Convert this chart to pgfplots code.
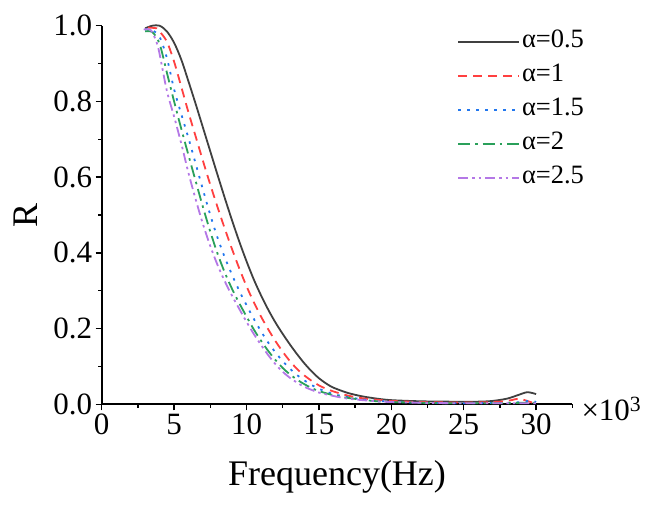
\documentclass[border=0pt]{standalone}
\usepackage{fontspec}
\setmainfont{Liberation Serif}
\usepackage{pgfplots}
\pgfplotsset{compat=1.18}
\definecolor{cblack}{RGB}{64,64,64}
\definecolor{cred}{RGB}{255,64,64}
\definecolor{cblue}{RGB}{34,119,238}
\definecolor{cgreen}{RGB}{42,160,90}
\definecolor{cpurple}{RGB}{180,120,230}
\begin{document}
\begin{tikzpicture}
\path[use as bounding box] (-101.7bp,-101.7bp) rectangle (550.3bp,404.3bp);
\begin{axis}[
  scale only axis,
  width=470.6bp, height=378.6bp,
  xmin=0, xmax=32.5, ymin=0, ymax=1.0,
  axis x line=bottom, axis y line=left,
  axis line style={-, line width=1.8bp, black},
  clip=false,
  tick align=outside,
  xtick={0,5,...,30},
  minor xtick={2.5,7.5,...,32.5},
  ytick={0,0.2,...,1.0},
  minor ytick={0.1,0.3,...,0.9},
  major tick length=6bp, minor tick length=3.5bp,
  every tick/.style={black, line width=1.5bp},
  tick label style={font=\fontsize{31bp}{36bp}\selectfont},
  /pgf/number format/assume math mode=true,
  yticklabel style={/pgf/number format/.cd, fixed, fixed zerofill, precision=1},
  scaled x ticks=false,
  xlabel={Frequency(Hz)}, ylabel={R},
  label style={font=\fontsize{36bp}{42bp}\selectfont},
  xlabel style={at={([yshift=-80.7bp]axis description cs:0.5,0)}, anchor=base},
  ylabel style={at={([xshift=-75.7bp]axis description cs:0,0.5)}, anchor=center, rotate=0},
  legend style={draw=none, fill=none, at={(rel axis cs:0.755,0.995)}, anchor=north west,
    inner sep=0pt, row sep=6bp,
    font=\fontsize{26.5bp}{31bp}\selectfont,
    nodes={inner sep=2bp, text height=18bp, text depth=6bp}},
  legend cell align=left,
  legend image code/.code={\draw[#1] (0bp,0bp) -- (61bp,0bp);},
]
\addplot[cblack, line width=1.8bp, smooth, tension=0.5] coordinates {
(3.0,0.993)(3.5,1.0)(4.0,1.0)(4.5,0.985)(5.0,0.955)(5.5,0.91)(6.0,0.852)(6.5,0.792)(7.0,0.73)(7.5,0.668)(8.0,0.606)(8.5,0.545)(9.0,0.486)(9.5,0.43)(10.0,0.378)(10.5,0.33)(11.0,0.288)(11.5,0.25)(12.0,0.216)(12.5,0.186)(13.0,0.158)(13.5,0.132)(14.0,0.108)(14.5,0.087)(15.0,0.069)(15.5,0.055)(16.0,0.044)(17.0,0.03)(18.0,0.021)(19.0,0.015)(20.0,0.011)(22,0.008)(24,0.007)(26,0.007)(27,0.009)(28,0.015)(28.8,0.025)(29.4,0.032)(30,0.027)};
\addlegendentry{α=0.5}
\addplot[cred, line width=1.8bp, dash pattern=on 9bp off 6bp, smooth, tension=0.5] coordinates {
(3.2,0.995)(3.8,0.993)(4.0,0.985)(4.5,0.958)(5.0,0.905)(5.5,0.838)(6.0,0.77)(6.5,0.706)(7.0,0.642)(7.5,0.58)(8.0,0.521)(8.5,0.464)(9.0,0.41)(9.5,0.359)(10.0,0.312)(10.5,0.27)(11.0,0.232)(11.5,0.198)(12.0,0.167)(12.5,0.139)(13.0,0.114)(13.5,0.093)(14.0,0.076)(14.5,0.062)(15.0,0.05)(15.5,0.041)(16,0.034)(17,0.023)(18,0.016)(19,0.012)(20,0.009)(22,0.006)(24,0.005)(26,0.005)(27.5,0.007)(28.3,0.011)(28.8,0.015)(29.3,0.01)(29.7,0.005)(30,0.004)};
\addlegendentry{α=1}
\addplot[cblue, line width=1.8bp, dash pattern=on 2.5bp off 6.5bp, smooth, tension=0.5] coordinates {
(3.0,0.99)(3.5,0.988)(4.0,0.97)(4.5,0.915)(5.0,0.832)(5.5,0.766)(6.0,0.702)(6.5,0.634)(7.0,0.566)(7.5,0.5)(8.0,0.44)(8.5,0.388)(9.0,0.342)(9.5,0.3)(10.0,0.262)(10.5,0.226)(11.0,0.193)(11.5,0.163)(12.0,0.137)(12.5,0.114)(13.0,0.094)(13.5,0.077)(14.0,0.063)(14.5,0.051)(15.0,0.041)(16,0.027)(17,0.019)(18,0.013)(19,0.009)(20,0.007)(22,0.004)(24,0.003)(26,0.003)(28,0.004)(29,0.006)(29.6,0.01)(30,0.006)};
\addlegendentry{α=1.5}
\addplot[cgreen, line width=1.8bp, dash pattern=on 12bp off 5bp on 2.5bp off 5bp, smooth, tension=0.5] coordinates {
(3.0,0.985)(3.5,0.983)(4.0,0.952)(4.5,0.876)(5.0,0.8)(5.5,0.727)(6.0,0.657)(6.5,0.588)(7.0,0.52)(7.5,0.456)(8.0,0.398)(8.5,0.348)(9.0,0.305)(9.5,0.267)(10.0,0.232)(10.5,0.198)(11.0,0.168)(11.5,0.141)(12.0,0.117)(12.5,0.096)(13.0,0.079)(13.5,0.065)(14.0,0.053)(14.5,0.043)(15.0,0.035)(16,0.024)(17,0.017)(18,0.012)(19,0.008)(20,0.006)(22,0.004)(24,0.003)(26,0.003)(28,0.003)(29,0.004)(30,0.004)};
\addlegendentry{α=2}
\addplot[cpurple, line width=1.8bp, dash pattern=on 10bp off 4bp on 2.5bp off 4bp on 2.5bp off 4bp, smooth, tension=0.5] coordinates {
(2.9,0.99)(3.4,0.988)(3.8,0.955)(4.0,0.925)(4.5,0.828)(5.0,0.76)(5.5,0.688)(6.0,0.61)(6.5,0.54)(7.0,0.475)(7.5,0.418)(8.0,0.368)(8.5,0.325)(9.0,0.287)(9.5,0.252)(10.0,0.218)(10.5,0.186)(11.0,0.157)(11.5,0.13)(12.0,0.106)(12.5,0.086)(13.0,0.07)(13.5,0.057)(14.0,0.046)(14.5,0.038)(15,0.031)(16,0.022)(17,0.015)(18,0.011)(19,0.008)(20,0.006)(22,0.004)(24,0.003)(26,0.003)(28,0.003)(30,0.003)};
\addlegendentry{α=2.5}
\node[anchor=base west, inner sep=0pt, font=\fontsize{31bp}{36bp}\selectfont] at ([xshift=9bp,yshift=-15.7bp]rel axis cs:1,0) {×10\textsuperscript{3}};
\end{axis}
\end{tikzpicture}
\end{document}
